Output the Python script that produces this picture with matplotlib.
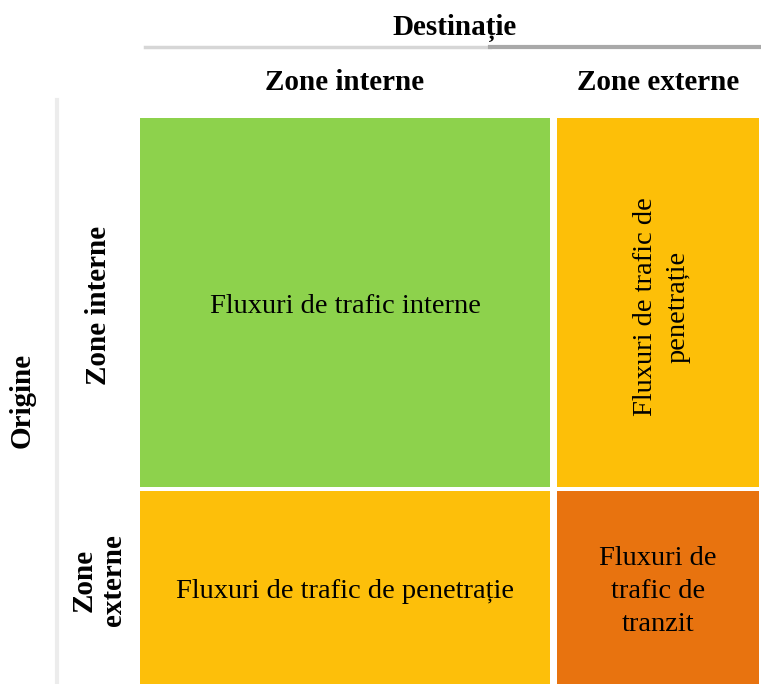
import matplotlib.pyplot as plt
from matplotlib.lines import Line2D

# matrix content
col_labels = ['Zone interne', 'Zone externe']
row_labels = ['Zone interne', 'Zone\nexterne']
cell_texts = [['Fluxuri de trafic interne', 'Fluxuri de trafic de\npenetrație'],
              ['Fluxuri de trafic de penetrație', 'Fluxuri de\ntrafic de\ntranzit']]
cell_colors = [['#8dd24c', '#fdbf08'],
               ['#fdbf0a', '#e8730f']]
cell_rotation = [[0, 90], [0, 0]]
x_title = 'Destinație'
y_title = 'Origine'

W, H = 761, 684
fig = plt.figure(figsize=(W / 100, H / 100), dpi=100)
plt.rcParams['font.family'] = ['Liberation Serif', 'DejaVu Serif']

# cell boxes in figure pixels: left, right / top, bottom
col_edges = [(140, 550), (557, 759)]
row_edges = [(118, 487), (491, 684)]

for i in range(2):
    for j in range(2):
        x0, x1 = col_edges[j]
        y0, y1 = row_edges[i]
        ax = fig.add_axes([x0 / W, 1 - y1 / H, (x1 - x0) / W, (y1 - y0) / H])
        ax.set_facecolor(cell_colors[i][j])
        ax.set_xticks([])
        ax.set_yticks([])
        for s in ax.spines.values():
            s.set_visible(False)
        # nudge text a few pixels down/right to sit like the original
        dx = 4 / (x1 - x0) if cell_rotation[i][j] else 0
        dy = 4 / (y1 - y0)
        ax.text(0.5 + dx, 0.5 - dy, cell_texts[i][j], ha='center', va='center',
                rotation=cell_rotation[i][j], fontsize=20.5, linespacing=1.4,
                transform=ax.transAxes)

# column headers
for j, lab in enumerate(col_labels):
    x0, x1 = col_edges[j]
    fig.text((x0 + x1) / 2 / W, 1 - 83 / H, lab, ha='center', va='center',
             fontsize=21, fontweight='bold')

# row headers
row_x = [98, 99]
for i, lab in enumerate(row_labels):
    yc = 305 if i == 0 else 580
    fig.text(row_x[i] / W, 1 - yc / H, lab, ha='center', va='center',
             rotation=90, fontsize=21, fontweight='bold', linespacing=1.1)

# axis titles
fig.text(455 / W, 1 - 28 / H, x_title, ha='center', va='center',
         fontsize=21, fontweight='bold')
fig.text(22 / W, 1 - 400 / H, y_title, ha='center', va='center',
         rotation=90, fontsize=21, fontweight='bold')

# divider lines
fig.add_artist(Line2D([145 / W, 490 / W], [1 - 47 / H] * 2, color='#d6d6d6', lw=2.5))
fig.add_artist(Line2D([490 / W, 1], [1 - 47 / H] * 2, color='#a9a9a9', lw=3))
fig.add_artist(Line2D([57 / W] * 2, [1 - 100 / H, 0], color='#ececec', lw=3))

plt.savefig('out.png', dpi=100)
